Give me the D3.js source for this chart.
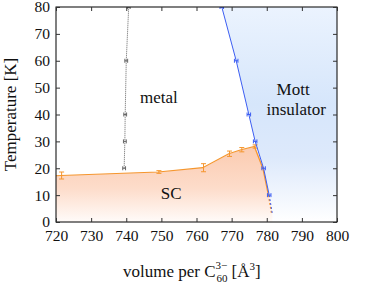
<!DOCTYPE html>
<html>
<head>
<meta charset="utf-8">
<script src="https://cdn.jsdelivr.net/npm/d3@7"></script>
<style>
  body { margin: 0; background: #fff; }
  svg text { font-family: "Liberation Serif", "Times New Roman", serif; fill: #111; }
</style>
</head>
<body>
<div id="chart"></div>
<script>
// metal / SC crossover (grey dotted)
const metalVolume = [739.4, 739.6, 739.7, 740.0, 740.7];
const metalTemp = [20, 30, 40, 60, 80];
const metalErr = [0.4, 0.4, 0.4, 0.4, 0.4];

// Mott boundary (blue)
const mottVolume = [767.2, 771.3, 774.9, 776.7, 779.1, 780.7];
const mottTemp = [80, 60, 40, 30, 20, 10];
const mottErr = [0.5, 0.5, 0.5, 0.5, 0.5, 0.5];
const mottTail = [[780.7, 10], [781.6, 3]];

// superconducting Tc (orange)
const scVolume = [721.6, 749.3, 762.0, 769.4, 772.9, 776.7];
const scTemp = [17.3, 18.6, 20.2, 25.4, 26.9, 28.1];
const scErr = [1.3, 0.5, 1.5, 1.0, 0.8, 0.6];
const scEdge = [720, 17.2];

const xTicks = [720, 730, 740, 750, 760, 770, 780, 790, 800];
const yTicks = [0, 10, 20, 30, 40, 50, 60, 70, 80];

const width = 365, height = 285;
const margin = { top: 7, right: 28, bottom: 63, left: 56 };
const serif = '"Liberation Serif", "Times New Roman", serif';

const svg = d3.select('#chart').append('svg')
    .attr('width', width)
    .attr('height', height)
    .attr('font-family', serif);

const x = d3.scaleLinear().domain([720, 800]).range([margin.left, width - margin.right]);
const y = d3.scaleLinear().domain([0, 80]).range([height - margin.bottom, margin.top]);

const defs = svg.append('defs');

// градиенты заливки
const gOrange = defs.append('linearGradient')
    .attr('id', 'sc-grad')
    .attr('gradientUnits', 'userSpaceOnUse')
    .attr('x1', 0).attr('x2', 0)
    .attr('y1', y(28)).attr('y2', y(0));
gOrange.append('stop').attr('offset', '0%').attr('stop-color', '#fbcbb0');
gOrange.append('stop').attr('offset', '55%').attr('stop-color', '#fddcca');
gOrange.append('stop').attr('offset', '100%').attr('stop-color', '#fffbf9');

const gBlue = defs.append('linearGradient')
    .attr('id', 'mott-grad')
    .attr('gradientUnits', 'userSpaceOnUse')
    .attr('x1', 0).attr('x2', 0)
    .attr('y1', y(80)).attr('y2', y(0));
gBlue.append('stop').attr('offset', '0%').attr('stop-color', '#ebf3fe');
gBlue.append('stop').attr('offset', '45%').attr('stop-color', '#d6e6fb');
gBlue.append('stop').attr('offset', '70%').attr('stop-color', '#dde9fb');
gBlue.append('stop').attr('offset', '100%').attr('stop-color', '#ffffff');

defs.append('clipPath').attr('id', 'plot-clip')
    .append('rect')
    .attr('x', margin.left).attr('y', margin.top)
    .attr('width', width - margin.left - margin.right)
    .attr('height', height - margin.top - margin.bottom);

const plot = svg.append('g').attr('clip-path', 'url(#plot-clip)');

const mottPts = mottVolume.map((v, i) => [v, mottTemp[i]]);
const scPts = [scEdge].concat(scVolume.map((v, i) => [v, scTemp[i]]));
const line = d3.line().x(d => x(d[0])).y(d => y(d[1]));

// Mott region
const mottArea = [[766.5, 84]].concat(mottPts, mottTail.slice(1), [[mottTail[1][0], 0], [800, 0], [800, 84]]);
plot.append('path')
    .attr('d', line(mottArea) + 'Z')
    .attr('fill', 'url(#mott-grad)');

// SC region
const scArea = scPts.concat(mottPts.slice(4), mottTail.slice(1), [[mottTail[1][0], 0], [720, 0]]);
plot.append('path')
    .attr('d', line(scArea) + 'Z')
    .attr('fill', 'url(#sc-grad)');

// SC line
const scColor = '#f5962e';
plot.append('path')
    .attr('d', line(scPts.concat(mottPts.slice(4))))
    .attr('transform', 'translate(-0.8,0)')
    .attr('fill', 'none')
    .attr('stroke', scColor)
    .attr('stroke-width', 1.2);
plot.append('path')
    .attr('d', line(mottTail))
    .attr('transform', 'translate(-0.8,0)')
    .attr('fill', 'none')
    .attr('stroke', scColor)
    .attr('stroke-width', 1.2)
    .attr('stroke-dasharray', '2,2');

scVolume.forEach((v, i) => {
    const cx = x(v), y1 = y(scTemp[i] - scErr[i]), y2 = y(scTemp[i] + scErr[i]);
    const g = plot.append('g').attr('stroke', scColor).attr('stroke-width', 1);
    g.append('line').attr('x1', cx).attr('x2', cx).attr('y1', y1).attr('y2', y2);
    g.append('line').attr('x1', cx - 2.5).attr('x2', cx + 2.5).attr('y1', y1).attr('y2', y1);
    g.append('line').attr('x1', cx - 2.5).attr('x2', cx + 2.5).attr('y1', y2).attr('y2', y2);
});

// metal line
const metalColor = '#666';
plot.append('path')
    .attr('d', line(metalVolume.map((v, i) => [v, metalTemp[i]])))
    .attr('fill', 'none')
    .attr('stroke', metalColor)
    .attr('stroke-width', 1)
    .attr('stroke-dasharray', '1,1');

function hBar(v, t, e, color) {
    const cy = y(t), x1 = x(v - e), x2 = x(v + e);
    const g = plot.append('g').attr('stroke', color).attr('stroke-width', 1);
    g.append('line').attr('x1', x1).attr('x2', x2).attr('y1', cy).attr('y2', cy);
    g.append('line').attr('x1', x1).attr('x2', x1).attr('y1', cy - 2).attr('y2', cy + 2);
    g.append('line').attr('x1', x2).attr('x2', x2).attr('y1', cy - 2).attr('y2', cy + 2);
}
metalVolume.forEach((v, i) => hBar(v, metalTemp[i], metalErr[i], metalColor));

// Mott line
const mottColor = '#3d5ef2';
plot.append('path')
    .attr('d', line([[766.5, 84]].concat(mottPts)))
    .attr('fill', 'none')
    .attr('stroke', mottColor)
    .attr('stroke-width', 1);
plot.append('path')
    .attr('d', line(mottTail))
    .attr('fill', 'none')
    .attr('stroke', mottColor)
    .attr('stroke-width', 1)
    .attr('stroke-dasharray', '2,2');
mottVolume.forEach((v, i) => hBar(v, mottTemp[i], mottErr[i], mottColor));

// frame and ticks
svg.append('rect')
    .attr('x', margin.left).attr('y', margin.top)
    .attr('width', width - margin.left - margin.right)
    .attr('height', height - margin.top - margin.bottom)
    .attr('fill', 'none')
    .attr('stroke', '#000')
    .attr('stroke-width', 1);

const fs = '15.5px';
const xAxis = svg.append('g').attr('transform', `translate(0,${y(0)})`)
    .call(d3.axisBottom(x).tickValues(xTicks).tickSize(-4).tickPadding(8).tickFormat(d3.format('d')));
const xAxisTop = svg.append('g').attr('transform', `translate(0,${y(80)})`)
    .call(d3.axisTop(x).tickValues(xTicks).tickSize(-4).tickFormat(''));
const yAxis = svg.append('g').attr('transform', `translate(${x(720)},0)`)
    .call(d3.axisLeft(y).tickValues(yTicks).tickSize(-4).tickPadding(6));
const yAxisRight = svg.append('g').attr('transform', `translate(${x(800)},0)`)
    .call(d3.axisRight(y).tickValues(yTicks).tickSize(-4).tickFormat(''));

[xAxis, xAxisTop, yAxis, yAxisRight].forEach(a => {
    a.attr('font-family', serif).attr('font-size', fs);
    a.select('.domain').remove();
    a.selectAll('.tick line').attr('stroke', '#333');
    a.selectAll('text')
        .attr('font-family', serif)
        .style('font-family', serif)
        .style('font-size', fs)
        .attr('fill', '#111');
});

// region labels
const lab = (tx, ty, s) => svg.append('text')
    .attr('x', tx).attr('y', ty)
    .attr('text-anchor', 'middle')
    .attr('font-family', serif)
    .style('font-size', '17px')
    .text(s);
lab(x(749.3), 103, 'metal');
lab(x(752.8), 199, 'SC');
lab(x(787.5), 95, 'Mott');
lab(x(788.4), 115, 'insulator');

// axis titles
svg.append('text')
    .attr('transform', `translate(16,${(y(0) + y(80)) / 2}) rotate(-90)`)
    .attr('text-anchor', 'middle')
    .attr('font-family', serif)
    .style('font-size', '17px')
    .text('Temperature [K]');

const xt = svg.append('text')
    .attr('x', 123).attr('y', 277)
    .attr('font-family', serif)
    .style('font-size', '17px');
xt.append('tspan').text('volume per C');
xt.append('tspan').attr('dx', 1).attr('dy', 5).style('font-size', '11px').text('60');
xt.append('tspan').attr('dx', -12).attr('dy', -13).style('font-size', '11px').text('3−');
xt.append('tspan').attr('dy', 8).text(' [Å');
xt.append('tspan').attr('dy', -7).style('font-size', '11px').text('3');
xt.append('tspan').attr('dy', 7).text(']');
</script>
</body>
</html>
